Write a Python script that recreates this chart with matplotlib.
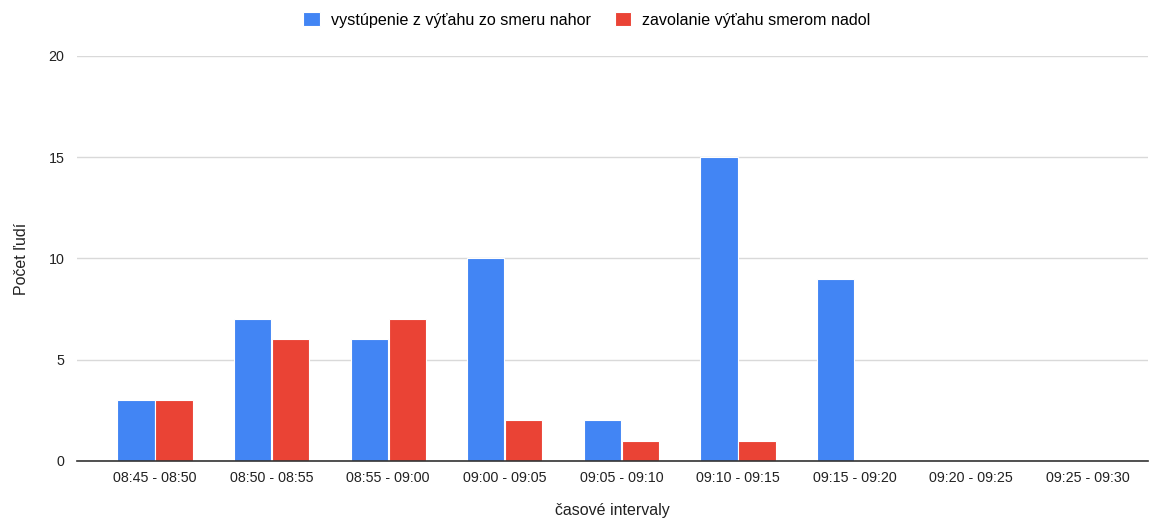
import matplotlib.pyplot as plt
import numpy as np

plt.rcParams['font.family'] = ['Liberation Sans', 'DejaVu Sans']

intervals = ["08:45 - 08:50", "08:50 - 08:55", "08:55 - 09:00", "09:00 - 09:05",
             "09:05 - 09:10", "09:10 - 09:15", "09:15 - 09:20", "09:20 - 09:25",
             "09:25 - 09:30"]
vystupenie = [3, 7, 6, 10, 2, 15, 9, 0, 0]
zavolanie = [3, 6, 7, 2, 1, 1, 0, 0, 0]

x = np.arange(len(intervals))
w = 0.32

fig = plt.figure(figsize=(11.58, 5.19), dpi=100)
ax = fig.add_axes([0.0665, 0.1118, 0.925, 0.7806])

ax.bar(x - 0.163, vystupenie, w, color="#4285F4", edgecolor="white", linewidth=0.8,
       label="vystúpenie z výťahu zo smeru nahor", zorder=3)
ax.bar(x + 0.163, zavolanie, w, color="#EA4335", edgecolor="white", linewidth=0.8,
       label="zavolanie výťahu smerom nadol", zorder=3)

ax.set_xlim(-0.67, 8.52)
ax.set_ylim(0, 20)
ax.set_yticks([0, 5, 10, 15, 20])
ax.set_xticks(x)
ax.set_xticklabels(intervals)
ax.tick_params(axis='both', length=0, labelsize=10.3, colors="#222222")
ax.tick_params(axis='x', pad=7)
ax.tick_params(axis='y', pad=9)

ax.grid(axis='y', color="#d9d9d9", linewidth=1, zorder=0)
for s in ["top", "right", "left"]:
    ax.spines[s].set_visible(False)
ax.spines["bottom"].set_color("#333333")
ax.spines["bottom"].set_linewidth(1.2)
ax.spines["bottom"].set_zorder(4)

ax.set_xlabel("časové intervaly", fontsize=11.5, color="#222222", labelpad=13)
ax.set_ylabel("Počet ľudí", fontsize=11.5, color="#222222", labelpad=14)

fig.legend(loc="upper center", bbox_to_anchor=(0.507, 1.005), ncol=2, frameon=False,
           fontsize=11.6, handlelength=1.0, handleheight=1.0, handletextpad=0.7,
           columnspacing=1.5)

fig.savefig("out.png", dpi=100)
